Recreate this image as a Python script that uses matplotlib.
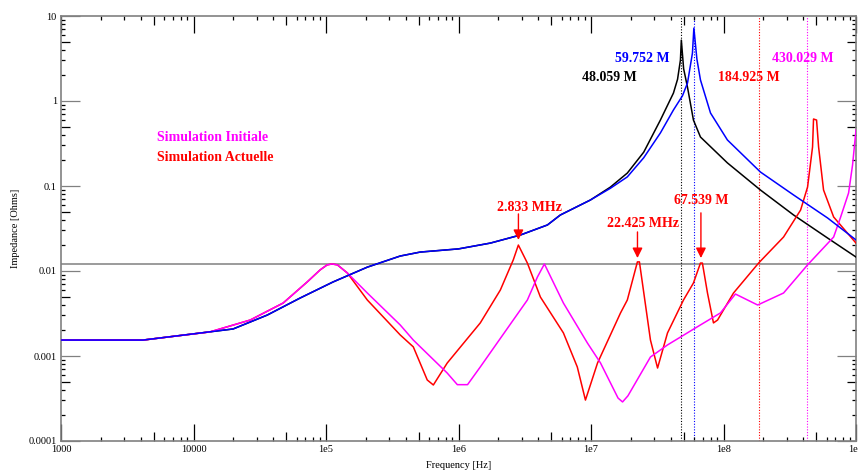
import math

import matplotlib

matplotlib.use("Agg")

import matplotlib.pyplot as plt  # noqa: E402
from matplotlib.ticker import FixedLocator, LogLocator, NullFormatter  # noqa: E402

plt.rcParams["font.family"] = ["Liberation Serif", "DejaVu Serif"]

# ---- data (frequency in Hz, impedance in Ohms) ----
blue_f = [1e3, 4.16e3, 1.99e4, 3.6e4, 6.38e4, 1.13e5, 2.05e5, 3.63e5, 5.14e5, 1.0e6,
          1.74e6, 2.93e6, 4.69e6, 5.87e6, 9.89e6, 1.4e7, 1.88e7, 2.5e7, 3.34e7, 4.19e7,
          4.9e7, 5.35e7, 5.83e7, 5.975e7, 6.30e7, 6.70e7, 7.98e7, 1.07e8, 1.90e8, 3.38e8,
          6.11e8, 1e9]
blue_z = [0.00154, 0.00154, 0.00208, 0.00303, 0.00481, 0.00743, 0.0111, 0.0150, 0.0167,
          0.0182, 0.0213, 0.0265, 0.0348, 0.0456, 0.0684, 0.094, 0.128, 0.215, 0.421, 0.784,
          1.15, 1.63, 3.67, 7.2, 3.1, 1.77, 0.722, 0.348, 0.146, 0.0784, 0.042, 0.0232]

black_f = [1e3, 4.16e3, 1.99e4, 3.6e4, 6.38e4, 1.13e5, 2.05e5, 3.63e5, 5.14e5, 1.0e6,
           1.74e6, 2.93e6, 4.69e6, 5.87e6, 9.89e6, 1.4e7, 1.88e7, 2.5e7, 3.34e7, 4.19e7,
           4.5e7, 4.73e7, 4.806e7, 5.0e7, 5.35e7, 5.93e7, 6.70e7, 1.07e8, 1.90e8, 3.38e8,
           6.11e8, 1e9]
black_z = [0.00154, 0.00154, 0.00208, 0.00303, 0.00481, 0.00743, 0.0111, 0.0150, 0.0167,
           0.0182, 0.0213, 0.0265, 0.0348, 0.0456, 0.0684, 0.097, 0.142, 0.25, 0.597, 1.24,
           1.8, 3.03, 5.2, 2.4, 1.45, 0.597, 0.377, 0.187, 0.0897, 0.0456, 0.0244, 0.0146]

init_f = [1e3, 4.16e3, 1.33e4, 2.68e4, 4.75e4, 7.21e4, 9.03e4, 1.02e5, 1.11e5, 1.22e5,
          1.45e5, 2.05e5, 3.63e5, 4.56e5, 8.22e5, 9.8e5, 1.17e6, 1.46e6, 2.59e6, 3.31e6,
          3.94e6, 4.45e6, 6.19e6, 9.40e6, 1.18e7, 1.6e7, 1.73e7, 1.9e7, 2.81e7, 3.78e7,
          6.70e7, 9.48e7, 1.23e8, 1.81e8, 2.84e8, 4.31e8, 6.78e8, 7.66e8, 8.79e8, 9.42e8,
          1e9]
init_z = [0.00154, 0.00154, 0.00192, 0.00265, 0.00420, 0.00743, 0.0103, 0.0118, 0.0121,
          0.0118, 0.00947, 0.00551, 0.00232, 0.00154, 0.00063, 0.00046, 0.00046, 0.000743,
          0.00265, 0.00456, 0.00849, 0.0121, 0.00420, 0.00142, 0.000827, 0.00032, 0.000288,
          0.00034, 0.000973, 0.00135, 0.00232, 0.00321, 0.00536, 0.00398, 0.00551, 0.0118,
          0.0251, 0.0432, 0.0828, 0.177, 0.456]

act_f = [1e3, 4.16e3, 1.33e4, 2.68e4, 4.75e4, 7.21e4, 9.03e4, 1.02e5, 1.11e5, 1.22e5,
         1.45e5, 2.05e5, 3.63e5, 4.56e5, 5.81e5, 6.46e5, 8.22e5, 1.46e6, 2.07e6, 2.59e6,
         2.83e6, 3.31e6, 4.15e6, 6.19e6, 7.88e6, 9.08e6, 1.12e7, 1.67e7, 1.88e7, 2.24e7,
         2.32e7, 2.81e7, 3.18e7, 3.78e7, 4.99e7, 5.93e7, 6.70e7, 6.93e7, 7.57e7, 8.40e7,
         9.02e7, 1.19e8, 1.84e8, 2.84e8, 3.82e8, 4.31e8, 4.70e8, 4.78e8, 5.04e8, 5.22e8,
         5.69e8, 6.78e8, 1e9]
act_z = [0.00154, 0.00154, 0.00192, 0.00265, 0.00420, 0.00743, 0.0103, 0.0118, 0.0121,
         0.0118, 0.00947, 0.00456, 0.00177, 0.00128, 0.000522, 0.000456, 0.000827, 0.00245,
         0.00598, 0.0135, 0.0202, 0.0124, 0.00494, 0.00187, 0.000743, 0.000303, 0.000827,
         0.00321, 0.00456, 0.0128, 0.0128, 0.00154, 0.000722, 0.00187, 0.00456, 0.00722,
         0.0124, 0.0124, 0.00551, 0.00245, 0.00265, 0.00551, 0.0124, 0.0251, 0.0522, 0.0973,
         0.288, 0.614, 0.597, 0.288, 0.0897, 0.0432, 0.0213]

ref_level = 0.0121

# resonance markers (vertical dotted lines + labels)
res_freqs = [48.059e6, 59.752e6, 184.925e6, 430.029e6]
res_labels = ["48.059 M", "59.752 M", "184.925 M", "430.029 M"]
res_colors = ["black", "#0000ff", "#ff0000", "#ff00ff"]
res_label_f = [1.38e7, 2.45e7, 1.55e8, 3.95e8]
res_label_z = [1.87, 3.2, 1.87, 3.2]

# arrows on the red curve
arrow_f = [2.833e6, 22.425e6, 67.539e6]
arrow_tip = [0.0232, 0.0142, 0.0142]
arrow_tail = [0.0469, 0.0288, 0.0483]
arrow_labels = ["2.833 MHz", "22.425 MHz", "67.539 M"]
arrow_text_f = [3.43e6, 2.49e7, 6.82e7]
arrow_text_z = [0.0566, 0.0367, 0.0684]

x_ticks = [1e3, 1e4, 1e5, 1e6, 1e7, 1e8, 1e9]
x_ticklabels = ["1000", "10000", "1e5", "1e6", "1e7", "1e8", "1e9"]
y_ticks = [1e-4, 1e-3, 1e-2, 1e-1, 1, 10]
y_ticklabels = ["0.0001", "0.001", "0.01", "0.1", "1", "10"]

# ---- figure ----
fig = plt.figure(figsize=(8.58, 4.76), dpi=100)
ax = fig.add_axes([61 / 858, 35 / 476, 795 / 858, 425 / 476])
ax.set_xscale("log")
ax.set_yscale("log")
ax.set_xlim(1e3, 1e9)
ax.set_ylim(1e-4, 10)

ax.axhline(ref_level, color="#808080", lw=1.1, zorder=1)
for f, c in zip(res_freqs, res_colors):
    ax.axvline(f, color=c, lw=0.8, ls=(0, (1, 1.5)), zorder=1)

ax.plot(black_f, black_z, color="black", lw=1.1, zorder=3)
ax.plot(act_f, act_z, color="#ff0000", lw=1.1, zorder=3)
ax.plot(init_f, init_z, color="#ff00ff", lw=1.1, zorder=4)
ax.plot(blue_f, blue_z, color="#0000ff", lw=1.1, zorder=5)

for f, z, lab, c in zip(res_label_f, res_label_z, res_labels, res_colors):
    ax.text(f, z, lab, color=c, fontsize=10, fontweight="bold", ha="center", va="center")

for f, tip, tail, lab, tf, tz in zip(arrow_f, arrow_tip, arrow_tail, arrow_labels,
                                     arrow_text_f, arrow_text_z):
    ax.annotate("", xy=(f, tip), xytext=(f, tail),
                arrowprops=dict(arrowstyle="-|>,head_length=0.6,head_width=0.3",
                                color="#ff0000", lw=1.0, shrinkA=0, shrinkB=0), zorder=6)
    ax.text(tf, tz, lab, color="#ff0000", fontsize=10, fontweight="bold",
            ha="center", va="center")

ax.text(0.121, 0.715, "Simulation Initiale", transform=ax.transAxes, color="#ff00ff",
        fontsize=10, fontweight="bold", va="center")
ax.text(0.121, 0.668, "Simulation Actuelle", transform=ax.transAxes, color="#ff0000",
        fontsize=10, fontweight="bold", va="center")

# axes styling
for s in ax.spines.values():
    s.set_color("#808080")
    s.set_linewidth(1.2)

ax.xaxis.set_major_locator(FixedLocator(x_ticks))
ax.set_xticklabels(x_ticklabels)
ax.yaxis.set_major_locator(FixedLocator(y_ticks))
ax.set_yticklabels(y_ticklabels)
ax.xaxis.set_minor_locator(LogLocator(base=10, subs=range(2, 10), numticks=20))
ax.yaxis.set_minor_locator(LogLocator(base=10, subs=range(2, 10), numticks=20))
ax.xaxis.set_minor_formatter(NullFormatter())
ax.yaxis.set_minor_formatter(NullFormatter())

ax.tick_params(which="both", direction="in", top=True, right=True, labelsize=7.5,
               colors="black", width=0.9)
ax.tick_params(axis="x", which="major", length=12, pad=3)
ax.tick_params(axis="y", which="major", length=13.5, pad=3, color="#808080")
ax.tick_params(which="minor", length=3)

ax.set_xlabel("Frequency [Hz]", fontsize=7.5, labelpad=5)
ax.set_ylabel("Impedance [Ohms]", fontsize=7.5, labelpad=6)

# the x5 minor ticks are longer in the reference
fig.canvas.draw()
for axis in (ax.xaxis, ax.yaxis):
    for t in axis.get_minor_ticks():
        loc = t.get_loc()
        mant = loc / 10 ** math.floor(math.log10(loc) + 1e-9)
        if abs(mant - 5) < 1e-6:
            t.tick1line.set_markersize(6.5)
            t.tick2line.set_markersize(6.5)

fig.savefig("out.png", dpi=100)
plt.close(fig)
